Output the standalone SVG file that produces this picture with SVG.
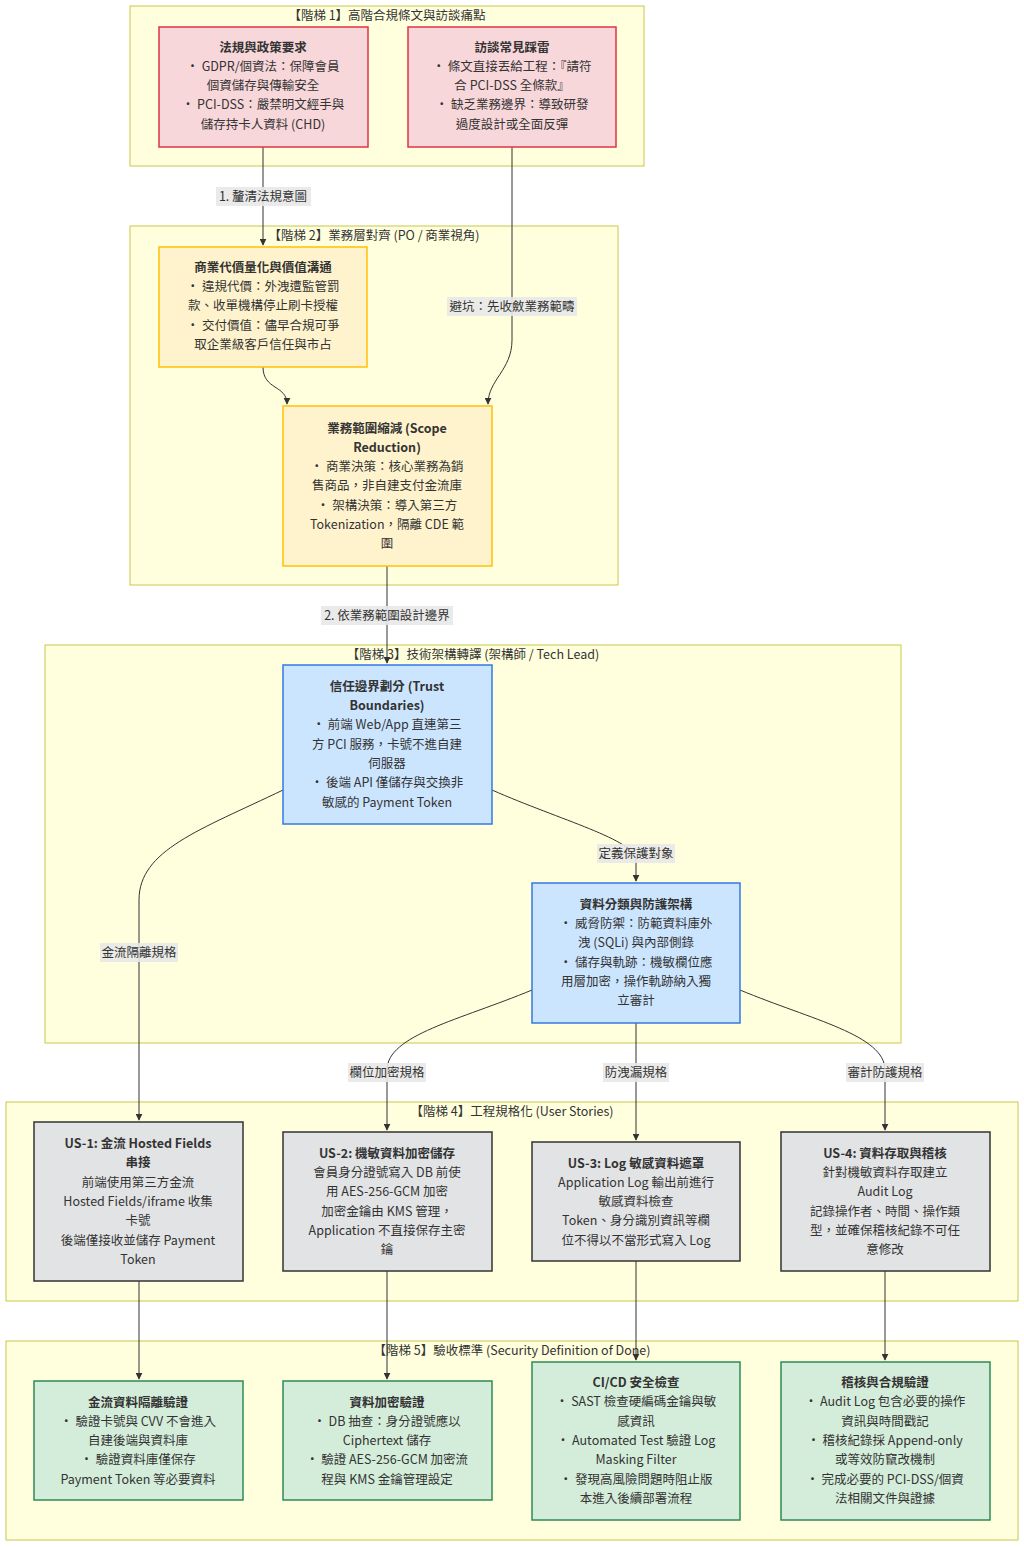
<svg xmlns="http://www.w3.org/2000/svg" width="1024" height="1547" viewBox="0 0 1024 1547">
<style>
text{font-family:"Noto Sans CJK TC","Noto Sans",sans-serif;font-size:12.5px;fill:#333;text-anchor:middle}
.b{font-weight:bold}
.cl{fill:#ffffde;stroke:#c8c84a;stroke-width:1}
.r{fill:#f8d7da;stroke:#dc3545;stroke-width:1.5}
.y{fill:#fff3cd;stroke:#ffc107;stroke-width:1.5}
.bl{fill:#cce5ff;stroke:#3578e5;stroke-width:1.5}
.g{fill:#e2e3e5;stroke:#333;stroke-width:1.5}
.gr{fill:#d4edda;stroke:#2e8b57;stroke-width:1.5}
.e{fill:none;stroke:#333;stroke-width:1}
.lb{fill:#e8e8e8;opacity:0.9}
</style>
<defs><marker id="ah" viewBox="0 0 10 10" refX="9" refY="5" markerWidth="7" markerHeight="7" orient="auto"><path d="M0,0L10,5L0,10z" fill="#333"/></marker></defs>
<g id="clusters">
<rect class="cl" x="130" y="6" width="514" height="160"/><text x="387" y="20">【階梯 1】高階合規條文與訪談痛點</text>
<rect class="cl" x="130" y="226" width="488" height="359"/><text x="374" y="240">【階梯 2】業務層對齊 (PO / 商業視角)</text>
<rect class="cl" x="45" y="645" width="856" height="398"/><text x="473" y="659">【階梯 3】技術架構轉譯 (架構師 / Tech Lead)</text>
<rect class="cl" x="6" y="1102" width="1012" height="199"/><text x="512" y="1116">【階梯 4】工程規格化 (User Stories)</text>
<rect class="cl" x="6" y="1341" width="1012" height="199"/><text x="512" y="1355">【階梯 5】驗收標準 (Security Definition of Done)</text>
</g>
<g id="edges">
<path class="e" d="M263,147V245" marker-end="url(#ah)"/>
<path class="e" d="M512,147V340C512,370 488,380 488,404" marker-end="url(#ah)"/>
<path class="e" d="M263,367C263,390 287,385 287,404" marker-end="url(#ah)"/>
<path class="e" d="M387,566V663" marker-end="url(#ah)"/>
<path class="e" d="M283,790C200,830 139,850 139,900V1120" marker-end="url(#ah)"/>
<path class="e" d="M492,790C560,820 636,840 636,860V881" marker-end="url(#ah)"/>
<path class="e" d="M532,990C460,1020 387,1035 387,1070V1130" marker-end="url(#ah)"/>
<path class="e" d="M636,1023V1140" marker-end="url(#ah)"/>
<path class="e" d="M740,990C812,1020 885,1035 885,1070V1130" marker-end="url(#ah)"/>
<path class="e" d="M139,1281V1379" marker-end="url(#ah)"/>
<path class="e" d="M387,1271V1379" marker-end="url(#ah)"/>
<path class="e" d="M636,1261V1360" marker-end="url(#ah)"/>
<path class="e" d="M885,1271V1360" marker-end="url(#ah)"/>
<rect class="lb" x="216" y="187" width="95" height="19"/><text x="263" y="201">1. 釐清法規意圖</text>
<rect class="lb" x="447" y="297" width="130" height="19"/><text x="512" y="311">避坑：先收斂業務範疇</text>
<rect class="lb" x="321" y="606" width="132" height="19"/><text x="387" y="620">2. 依業務範圍設計邊界</text>
<rect class="lb" x="100" y="943" width="78" height="19"/><text x="139" y="957">金流隔離規格</text>
<rect class="lb" x="597" y="844" width="78" height="19"/><text x="636" y="858">定義保護對象</text>
<rect class="lb" x="348" y="1063" width="78" height="19"/><text x="387" y="1077">欄位加密規格</text>
<rect class="lb" x="603" y="1063" width="66" height="19"/><text x="636" y="1077">防洩漏規格</text>
<rect class="lb" x="846" y="1063" width="78" height="19"/><text x="885" y="1077">審計防護規格</text>
</g>
<g id="A"><rect class="r" x="159" y="27" width="209" height="120"/>
<text x="263" y="52" class="b">法規與政策要求</text><text x="263" y="71">• GDPR/個資法：保障會員</text><text x="263" y="90">個資儲存與傳輸安全</text><text x="263" y="109">• PCI-DSS：嚴禁明文經手與</text><text x="263" y="129">儲存持卡人資料 (CHD)</text></g>
<g id="B"><rect class="r" x="408" y="27" width="208" height="120"/>
<text x="512" y="52" class="b">訪談常見踩雷</text><text x="512" y="71">• 條文直接丟給工程：『請符</text><text x="512" y="90">合 PCI-DSS 全條款』</text><text x="512" y="109">• 缺乏業務邊界：導致研發</text><text x="512" y="129">過度設計或全面反彈</text></g>
<g id="C"><rect class="y" x="159" y="247" width="208" height="120"/>
<text x="263" y="272" class="b">商業代價量化與價值溝通</text><text x="263" y="291">• 違規代價：外洩遭監管罰</text><text x="263" y="310">款、收單機構停止刷卡授權</text><text x="263" y="330">• 交付價值：儘早合規可爭</text><text x="263" y="349">取企業級客戶信任與市占</text></g>
<g id="D"><rect class="y" x="283" y="406" width="209" height="160"/>
<text x="387" y="433" class="b">業務範圍縮減 (Scope</text><text x="387" y="452" class="b">Reduction)</text><text x="387" y="471">• 商業決策：核心業務為銷</text><text x="387" y="490">售商品，非自建支付金流庫</text><text x="387" y="510">• 架構決策：導入第三方</text><text x="387" y="529">Tokenization，隔離 CDE 範</text><text x="387" y="548">圍</text></g>
<g id="E"><rect class="bl" x="283" y="665" width="209" height="159"/>
<text x="387" y="691" class="b">信任邊界劃分 (Trust</text><text x="387" y="710" class="b">Boundaries)</text><text x="387" y="729">• 前端 Web/App 直連第三</text><text x="387" y="749">方 PCI 服務，卡號不進自建</text><text x="387" y="768">伺服器</text><text x="387" y="787">• 後端 API 僅儲存與交換非</text><text x="387" y="807">敏感的 Payment Token</text></g>
<g id="F"><rect class="bl" x="532" y="883" width="208" height="140"/>
<text x="636" y="909" class="b">資料分類與防護架構</text><text x="636" y="928">• 威脅防禦：防範資料庫外</text><text x="636" y="947">洩 (SQLi) 與內部側錄</text><text x="636" y="967">• 儲存與軌跡：機敏欄位應</text><text x="636" y="986">用層加密，操作軌跡納入獨</text><text x="636" y="1005">立審計</text></g>
<g id="G1"><rect class="g" x="34" y="1122" width="209" height="159"/>
<text x="138" y="1148" class="b">US-1: 金流 Hosted Fields</text><text x="138" y="1167" class="b">串接</text><text x="138" y="1187">前端使用第三方金流</text><text x="138" y="1206">Hosted Fields/iframe 收集</text><text x="138" y="1225">卡號</text><text x="138" y="1245">後端僅接收並儲存 Payment</text><text x="138" y="1264">Token</text></g>
<g id="G2"><rect class="g" x="283" y="1132" width="209" height="139"/>
<text x="387" y="1158" class="b">US-2: 機敏資料加密儲存</text><text x="387" y="1177">會員身分證號寫入 DB 前使</text><text x="387" y="1196">用 AES-256-GCM 加密</text><text x="387" y="1216">加密金鑰由 KMS 管理，</text><text x="387" y="1235">Application 不直接保存主密</text><text x="387" y="1254">鑰</text></g>
<g id="G3"><rect class="g" x="532" y="1142" width="208" height="119"/>
<text x="636" y="1168" class="b">US-3: Log 敏感資料遮罩</text><text x="636" y="1187">Application Log 輸出前進行</text><text x="636" y="1206">敏感資料檢查</text><text x="636" y="1225">Token、身分識別資訊等欄</text><text x="636" y="1245">位不得以不當形式寫入 Log</text></g>
<g id="G4"><rect class="g" x="781" y="1132" width="209" height="139"/>
<text x="885" y="1158" class="b">US-4: 資料存取與稽核</text><text x="885" y="1177">針對機敏資料存取建立</text><text x="885" y="1196">Audit Log</text><text x="885" y="1216">記錄操作者、時間、操作類</text><text x="885" y="1235">型，並確保稽核紀錄不可任</text><text x="885" y="1254">意修改</text></g>
<g id="H1"><rect class="gr" x="34" y="1381" width="209" height="119"/>
<text x="138" y="1407" class="b">金流資料隔離驗證</text><text x="138" y="1426">• 驗證卡號與 CVV 不會進入</text><text x="138" y="1445">自建後端與資料庫</text><text x="138" y="1464">• 驗證資料庫僅保存</text><text x="138" y="1484">Payment Token 等必要資料</text></g>
<g id="H2"><rect class="gr" x="283" y="1381" width="209" height="119"/>
<text x="387" y="1407" class="b">資料加密驗證</text><text x="387" y="1426">• DB 抽查：身分證號應以</text><text x="387" y="1445">Ciphertext 儲存</text><text x="387" y="1464">• 驗證 AES-256-GCM 加密流</text><text x="387" y="1484">程與 KMS 金鑰管理設定</text></g>
<g id="H3"><rect class="gr" x="532" y="1362" width="208" height="158"/>
<text x="636" y="1387" class="b">CI/CD 安全檢查</text><text x="636" y="1406">• SAST 檢查硬編碼金鑰與敏</text><text x="636" y="1426">感資訊</text><text x="636" y="1445">• Automated Test 驗證 Log</text><text x="636" y="1464">Masking Filter</text><text x="636" y="1484">• 發現高風險問題時阻止版</text><text x="636" y="1503">本進入後續部署流程</text></g>
<g id="H4"><rect class="gr" x="781" y="1362" width="209" height="158"/>
<text x="885" y="1387" class="b">稽核與合規驗證</text><text x="885" y="1406">• Audit Log 包含必要的操作</text><text x="885" y="1426">資訊與時間戳記</text><text x="885" y="1445">• 稽核紀錄採 Append-only</text><text x="885" y="1464">或等效防竄改機制</text><text x="885" y="1484">• 完成必要的 PCI-DSS/個資</text><text x="885" y="1503">法相關文件與證據</text></g>
</svg>
